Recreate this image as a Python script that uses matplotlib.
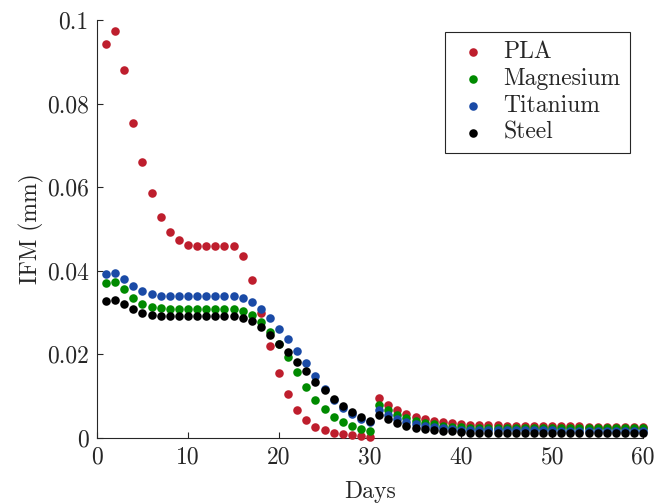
import numpy as np
import matplotlib
matplotlib.use('Agg')
import matplotlib.pyplot as plt

# dados
dias = np.arange(1, 61)

pla = [0.0943, 0.0974, 0.0880, 0.0754, 0.0660, 0.0586, 0.0528, 0.0492, 0.0473, 0.0462,
       0.0459, 0.0459, 0.0459, 0.0460, 0.0460, 0.0436, 0.0377, 0.0299, 0.0221, 0.0156,
       0.0105, 0.0067, 0.0043, 0.0027, 0.0019, 0.0013, 0.0009, 0.0006, 0.0005, 0.0003,
       0.0096, 0.0079, 0.0067, 0.0057, 0.0051, 0.0045, 0.0041, 0.0038, 0.0035, 0.0033,
       0.0032, 0.0031, 0.0030, 0.0030, 0.0029, 0.0029, 0.0029, 0.0028, 0.0028, 0.0028,
       0.0028, 0.0028, 0.0028, 0.0027, 0.0027, 0.0027, 0.0027, 0.0027, 0.0027, 0.0027]

magnesio = [0.0371, 0.0373, 0.0356, 0.0335, 0.0321, 0.0314, 0.0310, 0.0308, 0.0308, 0.0308,
            0.0308, 0.0308, 0.0308, 0.0308, 0.0308, 0.0305, 0.0295, 0.0278, 0.0254, 0.0226,
            0.0193, 0.0157, 0.0123, 0.0091, 0.0069, 0.0051, 0.0039, 0.0029, 0.0022, 0.0017,
            0.0080, 0.0067, 0.0055, 0.0047, 0.0041, 0.0037, 0.0033, 0.0029, 0.0027, 0.0026,
            0.0025, 0.0025, 0.0025, 0.0024, 0.0024, 0.0024, 0.0024, 0.0024, 0.0024, 0.0024,
            0.0023, 0.0023, 0.0023, 0.0023, 0.0023, 0.0023, 0.0023, 0.0023, 0.0023, 0.0023]

titanio = [0.0393, 0.0395, 0.0380, 0.0363, 0.0351, 0.0344, 0.0341, 0.0339, 0.0339, 0.0339,
           0.0339, 0.0339, 0.0339, 0.0339, 0.0339, 0.0336, 0.0325, 0.0308, 0.0286, 0.0262,
           0.0236, 0.0208, 0.0179, 0.0148, 0.0117, 0.0092, 0.0071, 0.0057, 0.0045, 0.0038,
           0.0066, 0.0055, 0.0045, 0.0038, 0.0033, 0.0029, 0.0026, 0.0023, 0.0022, 0.0020,
           0.0019, 0.0019, 0.0019, 0.0018, 0.0018, 0.0018, 0.0018, 0.0018, 0.0018, 0.0018,
           0.0017, 0.0017, 0.0017, 0.0017, 0.0017, 0.0017, 0.0017, 0.0017, 0.0017, 0.0017]

aco = [0.0329, 0.0330, 0.0321, 0.0308, 0.0300, 0.0295, 0.0293, 0.0291, 0.0291, 0.0291,
       0.0291, 0.0291, 0.0291, 0.0291, 0.0291, 0.0288, 0.0279, 0.0265, 0.0247, 0.0226,
       0.0205, 0.0182, 0.0160, 0.0135, 0.0114, 0.0093, 0.0077, 0.0063, 0.0051, 0.0041,
       0.0054, 0.0045, 0.0035, 0.0029, 0.0025, 0.0022, 0.0019, 0.0017, 0.0016, 0.0014,
       0.0013, 0.0013, 0.0013, 0.0012, 0.0012, 0.0012, 0.0012, 0.0012, 0.0012, 0.0012,
       0.0011, 0.0011, 0.0011, 0.0011, 0.0011, 0.0011, 0.0011, 0.0011, 0.0011, 0.0011]

nomes = ['PLA', 'Magnesium', 'Titanium', 'Steel']
cores = ['#BE1E2D', '#008A00', '#1A4AA6', '#000000']

xticks = [0, 10, 20, 30, 40, 50, 60]
yticks = [0, 0.02, 0.04, 0.06, 0.08, 0.1]


def plotador():
    plt.rcParams['font.family'] = 'serif'
    plt.rcParams['font.serif'] = ['cmr10']
    plt.rcParams['mathtext.fontset'] = 'cm'
    plt.rcParams['axes.unicode_minus'] = False

    fig = plt.figure(figsize=(6.55, 5.04), dpi=100)
    ax = fig.add_axes([0.148, 0.131, 0.834, 0.829])

    for serie, nome, cor in zip([pla, magnesio, titanio, aco], nomes, cores):
        ax.scatter(dias, serie, s=38, color=cor, label=nome, linewidths=0,
                   zorder=3, clip_on=False)

    ax.set_xlim(0, 60)
    ax.set_ylim(0, 0.1)
    ax.set_xticks(xticks)
    ax.set_yticks(yticks)
    ax.set_xticklabels([str(t) for t in xticks])
    ax.set_yticklabels(['%g' % t for t in yticks])
    ax.spines['top'].set_visible(False)
    ax.spines['right'].set_visible(False)
    for s in ['left', 'bottom']:
        ax.spines[s].set_color('#262626')
        ax.spines[s].set_linewidth(0.8)
    ax.tick_params(direction='in', length=4.5, width=0.8, labelsize=17,
                   colors='#262626', labelcolor='#262626', pad=6)

    ax.set_xlabel('Days', fontsize=17, color='#262626', labelpad=9)
    ax.set_ylabel('IFM (mm)', fontsize=17, color='#262626', labelpad=2)

    leg = ax.legend(loc='upper right', bbox_to_anchor=(0.976, 0.972), fontsize=17,
                    frameon=True, fancybox=False, framealpha=1, edgecolor='#262626',
                    handletextpad=0.5, labelspacing=0.2, borderpad=0.4,
                    handlelength=1.6, scatterpoints=1, borderaxespad=0)
    leg.get_frame().set_linewidth(0.8)
    for t in leg.get_texts():
        t.set_color('#262626')

    fig.savefig('out.png', dpi=100)


plotador()
